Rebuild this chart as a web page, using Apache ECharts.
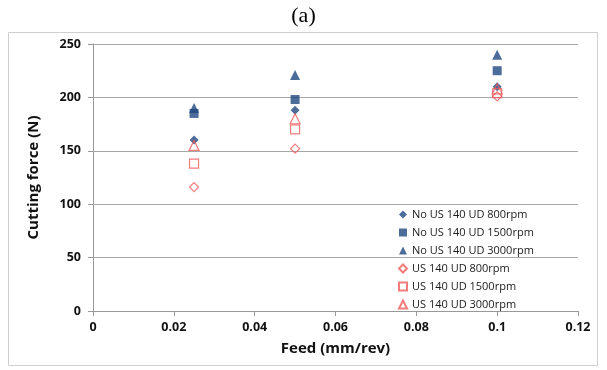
<!DOCTYPE html>
<html><head><meta charset="utf-8">
<script src="https://cdn.jsdelivr.net/npm/echarts@6/dist/echarts.min.js"></script>
<style>html,body{margin:0;padding:0;background:#fff}#c{width:607px;height:370px}</style>
</head><body><div id="c"></div>
<script>
var feeds = [0.025, 0.05, 0.1];
var seriesNames = ['No US 140 UD 800rpm','No US 140 UD 1500rpm','No US 140 UD 3000rpm','US 140 UD 800rpm','US 140 UD 1500rpm','US 140 UD 3000rpm'];
var noUs800 = [160, 188, 210];
var noUs1500 = [185, 198, 225];
var noUs3000 = [190, 221, 240];
var us800 = [116, 152, 201];
var us1500 = [138, 170, 204];
var us3000 = [155, 180, 208];
var xTicks = [0, 0.02, 0.04, 0.06, 0.08, 0.1, 0.12];
var yTicks = [0, 50, 100, 150, 200, 250];

var blue = '#1f477f', red = '#f05a5a';
function pts(v){ return feeds.map(function(f,i){ return [f, v[i]]; }); }
function filled(name, v, sym, size){
  return {name:name, type:'scatter', data:pts(v), symbol:sym, symbolSize:size,
    itemStyle:{color:blue}};
}
function hollow(name, v, sym, size){
  return {name:name, type:'scatter', data:pts(v), symbol:sym, symbolSize:size,
    itemStyle:{color:'rgba(255,255,255,0)', borderColor:red, borderWidth:1.2}};
}
var chart = echarts.init(document.getElementById('c'));
chart.setOption({
  animation:false,
  title:{text:'(a)', left:'center', top:0, textStyle:{fontFamily:'Liberation Serif', fontWeight:'normal', fontSize:22, color:'#000'}},
  graphic:[{type:'rect', shape:{x:8.5, y:32.5, width:589, height:333}, style:{fill:'none', stroke:'#cfcfcf', lineWidth:1}, z:-1}],
  grid:{left:93, right:29, top:44, bottom:59},
  legend:{orient:'vertical', left:393, top:204, itemGap:7, itemWidth:8, itemHeight:8,
    textStyle:{fontFamily:'Open Sans', fontSize:11, color:'#1a1a1a'},
    data:seriesNames},
  xAxis:{type:'value', min:xTicks[0], max:xTicks[xTicks.length-1], interval:0.02,
    name:'Feed (mm/rev)', nameLocation:'middle', nameGap:30,
    nameTextStyle:{fontFamily:'Open Sans', fontWeight:'bold', fontSize:15, color:'#111'},
    axisLine:{lineStyle:{color:'#999'}}, axisTick:{show:true, length:5, lineStyle:{color:'#999'}},
    axisLabel:{fontFamily:'Open Sans', fontWeight:'bold', fontSize:12.5, color:'#111', margin:10},
    splitLine:{show:false}},
  yAxis:{type:'value', min:yTicks[0], max:yTicks[yTicks.length-1], interval:50,
    name:'Cutting force (N)', nameLocation:'middle', nameGap:52,
    nameTextStyle:{fontFamily:'Open Sans', fontWeight:'bold', fontSize:15, color:'#111'},
    axisLine:{show:true, lineStyle:{color:'#999'}}, axisTick:{show:true, length:5, lineStyle:{color:'#999'}},
    axisLabel:{fontFamily:'Open Sans', fontWeight:'bold', fontSize:12.5, color:'#111', margin:12},
    splitLine:{lineStyle:{color:'#a8a8a8'}}},
  series:[
    filled(seriesNames[0], noUs800, 'diamond', 9),
    filled(seriesNames[1], noUs1500, 'rect', 9),
    filled(seriesNames[2], noUs3000, 'triangle', 10),
    hollow(seriesNames[3], us800, 'diamond', 9),
    hollow(seriesNames[4], us1500, 'rect', 9),
    hollow(seriesNames[5], us3000, 'triangle', 10)
  ]
});
</script></body></html>
